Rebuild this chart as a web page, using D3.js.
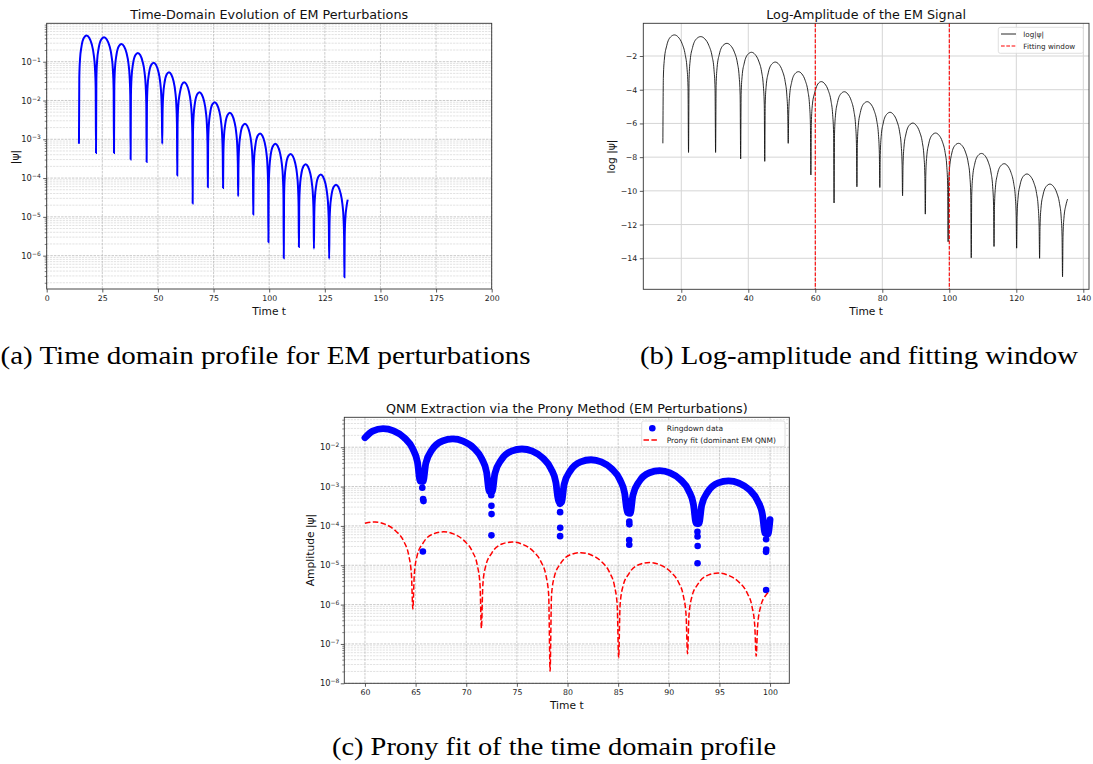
<!DOCTYPE html>
<html><head><meta charset="utf-8">
<script src="https://cdn.jsdelivr.net/npm/d3@7"></script>
<style>
body{margin:0;background:#fff;}
svg{display:block;}
</style>
</head><body>
<svg id="fig" width="1093" height="764"></svg>
<script>
// ---------------- DATA ----------------
// Signal |psi(t)|, given as natural log. Dip (node) points:
const dipT  = [14.50, 22.16, 30.24, 37.72, 44.91, 51.92, 58.68, 65.60, 72.42, 79.26, 86.05, 92.84, 99.65, 106.55, 113.35, 120.10, 126.95, 133.80];
const dipLn = [-7.18, -7.72, -7.72, -8.11, -8.25, -7.18, -9.06, -10.72, -9.76, -9.80, -10.29, -11.38, -13.02, -13.97, -13.30, -13.40, -14.00, -15.10];
// Points along each arch between the dips:
const archT = [
 14.65, 14.96, 15.65, 16.80, 17.95, 19.10, 20.25, 21.16, 21.70, 22.01,
 22.32, 22.64, 23.37, 24.58, 25.80, 27.01, 28.22, 29.19, 29.76, 30.08,
 30.39, 30.69, 31.36, 32.48, 33.61, 34.73, 35.85, 36.75, 37.27, 37.57,
 37.86, 38.15, 38.80, 39.88, 40.96, 42.03, 43.11, 43.98, 44.48, 44.77,
 45.05, 45.33, 45.96, 47.01, 48.06, 49.12, 50.17, 51.01, 51.50, 51.78,
 52.06, 52.33, 52.93, 53.95, 54.96, 55.98, 56.99, 57.80, 58.27, 58.54,
 58.82, 59.10, 59.72, 60.00, 60.76, 61.79, 62.83, 63.87, 64.70, 65.18, 65.46,
 65.74, 66.01, 66.62, 67.65, 68.67, 69.69, 70.72, 71.53, 72.01, 72.28,
 72.56, 72.83, 73.45, 74.47, 75.50, 76.52, 77.55, 78.37, 78.85, 79.12,
 79.40, 79.67, 80.28, 81.30, 82.32, 83.33, 84.35, 85.17, 85.64, 85.91,
 86.19, 86.46, 87.07, 88.09, 89.11, 90.12, 91.14, 91.96, 92.43, 92.70,
 92.98, 93.25, 93.86, 94.88, 95.90, 96.93, 97.95, 98.76, 99.24, 99.51,
 99.79, 100.00, 100.69, 101.72, 102.76, 103.79, 104.83, 105.65, 106.14, 106.41,
 106.69, 106.96, 107.57, 108.59, 109.61, 110.63, 111.65, 112.47, 112.94, 113.21,
 113.49, 113.76, 114.36, 115.38, 116.39, 117.40, 118.41, 119.22, 119.70, 119.97,
 120.24, 120.51, 121.13, 122.16, 123.18, 124.21, 125.24, 126.06, 126.54, 126.81,
 127.09, 127.36, 127.98, 129.01, 130.03, 131.06, 132.09, 132.91, 133.39, 133.66,
 133.94, 134.21, 134.82, 135.30];
const archLn = [
 -3.25, -2.18, -1.39, -0.87, -0.75, -0.88, -1.27, -1.91, -2.70, -3.83,
 -3.35, -2.28, -1.49, -0.97, -0.85, -0.98, -1.37, -2.01, -2.80, -3.93,
 -3.75, -2.68, -1.89, -1.37, -1.25, -1.38, -1.77, -2.41, -3.20, -4.33,
 -4.28, -3.21, -2.42, -1.90, -1.78, -1.91, -2.30, -2.94, -3.73, -4.86,
 -4.86, -3.79, -3.00, -2.48, -2.36, -2.49, -2.88, -3.52, -4.31, -5.44,
 -5.43, -4.36, -3.57, -3.05, -2.93, -3.06, -3.45, -4.09, -4.88, -6.01,
 -6.02, -4.95, -4.25, -4.05, -3.66, -3.52, -3.65, -4.04, -4.68, -5.47, -6.60,
 -6.62, -5.55, -4.76, -4.24, -4.12, -4.25, -4.64, -5.28, -6.07, -7.20,
 -7.21, -6.14, -5.35, -4.83, -4.71, -4.84, -5.23, -5.87, -6.66, -7.79,
 -7.84, -6.77, -5.98, -5.46, -5.34, -5.47, -5.86, -6.50, -7.29, -8.42,
 -8.48, -7.41, -6.62, -6.10, -5.98, -6.11, -6.50, -7.14, -7.93, -9.06,
 -9.07, -8.00, -7.21, -6.69, -6.57, -6.70, -7.09, -7.73, -8.52, -9.65,
 -9.68, -8.85, -7.82, -7.30, -7.18, -7.31, -7.70, -8.34, -9.13, -10.26,
 -10.28, -9.21, -8.42, -7.90, -7.78, -7.91, -8.30, -8.94, -9.73, -10.86,
 -10.89, -9.82, -9.03, -8.51, -8.39, -8.52, -8.91, -9.55, -10.34, -11.47,
 -11.50, -10.43, -9.64, -9.12, -9.00, -9.13, -9.52, -10.16, -10.95, -12.08,
 -12.10, -11.03, -10.24, -9.72, -9.60, -9.73, -10.12, -10.76, -11.55, -12.68,
 -12.70, -11.63, -10.84, -10.49];

// Fitting window
const windowT = [60, 100];

// Isolated ringdown samples near the nodes (panel c), log10 amplitude
const ringDipT     = [65.66, 65.74, 65.78, 65.72, 72.47, 72.49, 72.50, 72.49, 79.25, 79.27, 79.28, 79.27, 86.08, 86.10, 86.10, 86.11, 86.09, 86.10, 92.83, 92.84, 92.85, 92.84, 99.60, 99.61, 99.62, 99.60, 99.61];
const ringDipLog10 = [-3.03, -3.32, -3.37, -4.65, -3.22, -3.49, -3.70, -4.24, -3.44, -3.65, -4.05, -4.26, -3.37, -3.55, -3.89, -3.96, -4.36, -4.48, -4.15, -4.27, -4.51, -4.95, -4.10, -4.34, -4.60, -4.66, -5.63];

// Prony fit (dominant EM QNM), log10 amplitude
const pronyT = [60.00, 61.00, 62.02, 63.04, 63.85, 64.32, 64.59, 64.73,
 64.87, 65.14, 65.75, 66.76, 67.78, 68.79, 69.81, 70.62, 71.09, 71.36, 71.50,
 71.64, 71.91, 72.52, 73.53, 74.55, 75.57, 76.59, 77.40, 77.87, 78.14, 78.28,
 78.42, 78.69, 79.30, 80.31, 81.33, 82.34, 83.36, 84.17, 84.64, 84.91, 85.05,
 85.19, 85.46, 86.07, 87.09, 88.11, 89.13, 90.15, 90.97, 91.44, 91.71, 91.85,
 91.99, 92.26, 92.87, 93.88, 94.90, 95.92, 96.94, 97.75, 98.22, 98.49, 98.63,
 98.77, 99.04, 99.65, 100.00];
const pronyLog10 = [-3.93, -3.90, -3.96, -4.13, -4.40, -4.75, -5.24, -6.11,
 -5.24, -4.77, -4.43, -4.20, -4.15, -4.21, -4.38, -4.66, -5.00, -5.49, -6.60,
 -5.50, -5.03, -4.69, -4.46, -4.41, -4.47, -4.64, -4.92, -5.26, -5.75, -7.69,
 -5.77, -5.30, -4.96, -4.73, -4.68, -4.74, -4.91, -5.19, -5.53, -6.02, -7.35,
 -6.02, -5.55, -5.21, -4.98, -4.93, -4.99, -5.16, -5.44, -5.78, -6.27, -7.25,
 -6.29, -5.82, -5.48, -5.25, -5.20, -5.26, -5.43, -5.71, -6.05, -6.54, -7.31,
 -6.55, -6.08, -5.74, -5.67];

// Ticks
const xTicksA = [0, 25, 50, 75, 100, 125, 150, 175, 200];
const yTicksA = [1e-1, 1e-2, 1e-3, 1e-4, 1e-5, 1e-6];
const xTicksB = [20, 40, 60, 80, 100, 120, 140];
const yTicksB = [-2, -4, -6, -8, -10, -12, -14];
const xTicksC = [60, 65, 70, 75, 80, 85, 90, 95, 100];
const yTicksC = [1e-2, 1e-3, 1e-4, 1e-5, 1e-6, 1e-7, 1e-8];

// Texts
const titles = ["Time-Domain Evolution of EM Perturbations", "Log-Amplitude of the EM Signal", "QNM Extraction via the Prony Method (EM Perturbations)"];
const captions = ["(a) Time domain profile for EM perturbations", "(b) Log-amplitude and fitting window", "(c) Prony fit of the time domain profile"];
const legendB = ["log|ψ|", "Fitting window"];
const legendC = ["Ringdown data", "Prony fit (dominant EM QNM)"];

// ---------------- DRAWING ----------------
const svg = d3.select('#fig');
const SANS = '"DejaVu Sans", sans-serif';
const SERIF = '"Liberation Serif", "DejaVu Serif", serif';

const signal = dipT.map((t, i) => ({t, ln: dipLn[i]}))
  .concat(archT.map((t, i) => ({t, ln: archLn[i]})))
  .sort((a, b) => a.t - b.t);
const band = archT.map((t, i) => ({t, ln: archLn[i]})).filter(d => d.t >= windowT[0] && d.t <= windowT[1]);
const prony = pronyT.map((t, i) => ({t, v: Math.pow(10, pronyLog10[i])}));
const ringDips = ringDipT.map((t, i) => ({t, v: Math.pow(10, ringDipLog10[i])}));

function fitText(sel, target) {
  const w = sel.node().getComputedTextLength();
  const fs = parseFloat(sel.attr('font-size'));
  sel.attr('font-size', fs * target / w);
}
function minorLog(domain) {
  const lo = Math.floor(Math.log10(domain[0])), hi = Math.ceil(Math.log10(domain[1]));
  const out = [];
  for (let e = lo; e < hi; e++) for (let k = 2; k <= 9; k++) {
    const v = k * Math.pow(10, e);
    if (v >= domain[0] && v <= domain[1]) out.push(v);
  }
  return out;
}
function frame(g, b) {
  g.append('rect').attr('x', b.l).attr('y', b.t).attr('width', b.r - b.l).attr('height', b.b - b.t)
    .attr('fill', 'none').attr('stroke', '#333').attr('stroke-width', 0.9);
}
function styleAxis(a, fs) {
  a.attr('font-family', SANS).attr('font-size', fs);
  a.select('.domain').remove();
  a.selectAll('.tick line').attr('stroke', '#333').attr('stroke-width', 0.8);
  a.selectAll('.tick text').attr('fill', '#222');
}
function supLabels(a) {
  a.selectAll('.tick text').each(function(d) {
    const e = Math.round(Math.log10(d));
    const s = d3.select(this);
    s.text(null);
    s.append('tspan').text('10');
    s.append('tspan').attr('dy', '-0.5em').attr('font-size', '0.72em').text('\u2212' + Math.abs(e));
  });
}
function title(txt, cx, y, w) {
  const t = svg.append('text').attr('x', cx).attr('y', y).attr('text-anchor', 'middle')
    .attr('font-family', SANS).attr('font-size', 12).attr('fill', '#111').text(txt);
  fitText(t, w);
}
function xlabel(txt, cx, y) {
  svg.append('text').attr('x', cx).attr('y', y).attr('text-anchor', 'middle')
    .attr('font-family', SANS).attr('font-size', 10.7).attr('fill', '#111').text(txt);
}
function ylabel(txt, x, cy) {
  svg.append('text').attr('transform', `translate(${x},${cy}) rotate(-90)`).attr('text-anchor', 'middle')
    .attr('font-family', SANS).attr('font-size', 10.7).attr('fill', '#111').text(txt);
}
function clip(id, b) {
  svg.append('clipPath').attr('id', id).append('rect')
    .attr('x', b.l).attr('y', b.t).attr('width', b.r - b.l).attr('height', b.b - b.t);
}

// ===== Panel (a) =====
{
  const b = {l: 46.7, r: 491.7, t: 23.3, b: 289};
  const x = d3.scaleLinear().domain([0, 200]).range([b.l, b.r]);
  const y = d3.scaleLog().domain([Math.pow(10, -6.86), Math.pow(10, -0.01)]).range([b.b, b.t]);
  const g = svg.append('g');
  const minors = minorLog(y.domain());
  g.selectAll('.ymin').data(minors).join('line')
    .attr('x1', b.l).attr('x2', b.r).attr('y1', d => y(d)).attr('y2', d => y(d))
    .attr('stroke', '#cfcfcf').attr('stroke-width', 0.6).attr('stroke-dasharray', '2.2,1');
  g.selectAll('.ymaj').data(yTicksA).join('line')
    .attr('x1', b.l).attr('x2', b.r).attr('y1', d => y(d)).attr('y2', d => y(d))
    .attr('stroke', '#bdbdbd').attr('stroke-width', 0.8).attr('stroke-dasharray', '2.5,1.1');
  g.selectAll('.xg').data(xTicksA).join('line')
    .attr('x1', d => x(d)).attr('x2', d => x(d)).attr('y1', b.t).attr('y2', b.b)
    .attr('stroke', '#bdbdbd').attr('stroke-width', 0.8).attr('stroke-dasharray', '2.5,1.1');
  clip('clipA', b);
  g.append('path').datum(signal).attr('clip-path', 'url(#clipA)')
    .attr('d', d3.line().x(d => x(d.t)).y(d => y(Math.exp(d.ln))).curve(d3.curveMonotoneX))
    .attr('fill', 'none').attr('stroke', '#0000ff').attr('stroke-width', 2);
  frame(g, b);
  const ax = g.append('g').attr('transform', `translate(0,${b.b})`)
    .call(d3.axisBottom(x).tickValues(xTicksA).tickSize(3.5).tickPadding(2.5));
  styleAxis(ax, 7.8);
  const ay = g.append('g').attr('transform', `translate(${b.l},0)`)
    .call(d3.axisLeft(y).tickValues(yTicksA).tickSize(3.5).tickPadding(2.5));
  styleAxis(ay, 8.3); supLabels(ay);
  const aym = g.append('g').attr('transform', `translate(${b.l},0)`)
    .call(d3.axisLeft(y).tickValues(minors).tickSize(2).tickFormat(''));
  styleAxis(aym, 8); aym.selectAll('.tick line').attr('stroke-width', 0.6);
  title(titles[0], (b.l + b.r) / 2, 18.7, 278);
  xlabel('Time t', (b.l + b.r) / 2, 314.5);
  ylabel('|ψ|', 18.5, 157);
}

// ===== Panel (b) =====
{
  const b = {l: 643.3, r: 1089, t: 23.3, b: 289.3};
  const x = d3.scaleLinear().domain([8.66, 141.7]).range([b.l, b.r]);
  const y = d3.scaleLinear().domain([-15.84, -0.06]).range([b.b, b.t]);
  const g = svg.append('g');
  g.selectAll('.yg').data(yTicksB).join('line')
    .attr('x1', b.l).attr('x2', b.r).attr('y1', d => y(d)).attr('y2', d => y(d))
    .attr('stroke', '#d5d5d5').attr('stroke-width', 1);
  g.selectAll('.xg').data(xTicksB).join('line')
    .attr('x1', d => x(d)).attr('x2', d => x(d)).attr('y1', b.t).attr('y2', b.b)
    .attr('stroke', '#d5d5d5').attr('stroke-width', 1);
  clip('clipB', b);
  g.append('path').datum(signal).attr('clip-path', 'url(#clipB)')
    .attr('d', d3.line().x(d => x(d.t)).y(d => y(d.ln)).curve(d3.curveMonotoneX))
    .attr('fill', 'none').attr('stroke', '#111').attr('stroke-width', 0.9);
  g.selectAll('.win').data(windowT).join('line')
    .attr('x1', d => x(d)).attr('x2', d => x(d)).attr('y1', b.t).attr('y2', b.b)
    .attr('stroke', '#ff0000').attr('stroke-width', 1.1).attr('stroke-dasharray', '3.7,1.6');
  frame(g, b);
  const ax = g.append('g').attr('transform', `translate(0,${b.b})`)
    .call(d3.axisBottom(x).tickValues(xTicksB).tickSize(3.5).tickPadding(2.5));
  styleAxis(ax, 7.8);
  const ay = g.append('g').attr('transform', `translate(${b.l},0)`)
    .call(d3.axisLeft(y).tickValues(yTicksB).tickSize(3.5).tickPadding(2.5));
  styleAxis(ay, 7.8);
  // legend
  const lg = g.append('g');
  lg.append('rect').attr('x', 998.3).attr('y', 27.3).attr('width', 85).attr('height', 26).attr('rx', 2)
    .attr('fill', '#fff').attr('fill-opacity', 0.85).attr('stroke', '#d8d8d8').attr('stroke-width', 0.8);
  lg.append('line').attr('x1', 1001).attr('x2', 1016).attr('y1', 34).attr('y2', 34)
    .attr('stroke', '#111').attr('stroke-width', 0.9);
  lg.append('line').attr('x1', 1001).attr('x2', 1016).attr('y1', 46).attr('y2', 46)
    .attr('stroke', '#ff0000').attr('stroke-width', 1.1).attr('stroke-dasharray', '3.7,1.6');
  lg.selectAll('.lt').data(legendB).join('text')
    .attr('x', 1023.3).attr('y', (d, i) => 36.6 + i * 12)
    .attr('font-family', SANS).attr('font-size', 7.2).attr('fill', '#222').text(d => d);
  title(titles[1], (b.l + b.r) / 2, 18.5, 200);
  xlabel('Time t', (b.l + b.r) / 2, 314.5);
  ylabel('log |ψ|', 614.8, 156.5);
}

// ===== Panel (c) =====
{
  const b = {l: 344.3, r: 789.3, t: 417.3, b: 683.3};
  const x = d3.scaleLinear().domain([57.96, 101.9]).range([b.l, b.r]);
  const y = d3.scaleLog().domain([1e-8, Math.pow(10, -1.24)]).range([b.b, b.t]);
  const g = svg.append('g');
  const minors = minorLog(y.domain());
  g.selectAll('.ymin').data(minors).join('line')
    .attr('x1', b.l).attr('x2', b.r).attr('y1', d => y(d)).attr('y2', d => y(d))
    .attr('stroke', '#cfcfcf').attr('stroke-width', 0.6).attr('stroke-dasharray', '2.2,1');
  g.selectAll('.ymaj').data(yTicksC).join('line')
    .attr('x1', b.l).attr('x2', b.r).attr('y1', d => y(d)).attr('y2', d => y(d))
    .attr('stroke', '#bdbdbd').attr('stroke-width', 0.8).attr('stroke-dasharray', '2.5,1.1');
  g.selectAll('.xg').data(xTicksC).join('line')
    .attr('x1', d => x(d)).attr('x2', d => x(d)).attr('y1', b.t).attr('y2', b.b)
    .attr('stroke', '#bdbdbd').attr('stroke-width', 0.8).attr('stroke-dasharray', '2.5,1.1');
  clip('clipC', b);
  const dc = g.append('g').attr('clip-path', 'url(#clipC)');
  dc.append('path').datum(band)
    .attr('d', d3.line().x(d => x(d.t)).y(d => y(Math.exp(d.ln))).curve(d3.curveMonotoneX))
    .attr('fill', 'none').attr('stroke', '#0000ff').attr('stroke-width', 6.8)
    .attr('stroke-linecap', 'round').attr('stroke-linejoin', 'round');
  dc.selectAll('.rd').data(ringDips).join('circle')
    .attr('cx', d => x(d.t)).attr('cy', d => y(d.v)).attr('r', 3.3).attr('fill', '#0000ff');
  dc.append('path').datum(prony)
    .attr('d', d3.line().x(d => x(d.t)).y(d => y(d.v)).curve(d3.curveMonotoneX))
    .attr('fill', 'none').attr('stroke', '#ff0000').attr('stroke-width', 1.5).attr('stroke-dasharray', '5.5,2.4');
  frame(g, b);
  const ax = g.append('g').attr('transform', `translate(0,${b.b})`)
    .call(d3.axisBottom(x).tickValues(xTicksC).tickSize(3.5).tickPadding(2.5));
  styleAxis(ax, 7.8);
  const ay = g.append('g').attr('transform', `translate(${b.l},0)`)
    .call(d3.axisLeft(y).tickValues(yTicksC).tickSize(3.5).tickPadding(1.5));
  styleAxis(ay, 8.3); supLabels(ay);
  const aym = g.append('g').attr('transform', `translate(${b.l},0)`)
    .call(d3.axisLeft(y).tickValues(minors).tickSize(2).tickFormat(''));
  styleAxis(aym, 8); aym.selectAll('.tick line').attr('stroke-width', 0.6);
  // legend
  const lg = g.append('g');
  lg.append('rect').attr('x', 641.7).attr('y', 421).attr('width', 143.3).attr('height', 25.7).attr('rx', 2)
    .attr('fill', '#fff').attr('fill-opacity', 0.85).attr('stroke', '#d8d8d8').attr('stroke-width', 0.8);
  lg.append('circle').attr('cx', 652.3).attr('cy', 428.3).attr('r', 3.3).attr('fill', '#0000ff');
  lg.append('line').attr('x1', 643.5).attr('x2', 658.5).attr('y1', 440).attr('y2', 440)
    .attr('stroke', '#ff0000').attr('stroke-width', 1.5).attr('stroke-dasharray', '5.5,2.4');
  lg.selectAll('.lt').data(legendC).join('text')
    .attr('x', 666.7).attr('y', (d, i) => 430.9 + i * 11.7)
    .attr('font-family', SANS).attr('font-size', 7.5).attr('fill', '#222').text(d => d);
  title(titles[2], (b.l + b.r) / 2, 413, 362);
  xlabel('Time t', (b.l + b.r) / 2, 709);
  ylabel('Amplitude |ψ|', 313.5, 550);
}

// ===== Captions =====
const capPos = [{x: 0.5, y: 364, w: 530}, {x: 640, y: 364, w: 438}, {x: 332, y: 755, w: 444}];
captions.forEach((c, i) => {
  svg.append('text').attr('x', capPos[i].x).attr('y', capPos[i].y).attr('text-anchor', 'start')
    .attr('font-family', SERIF).attr('font-size', 25).attr('fill', '#000')
    .attr('textLength', capPos[i].w).attr('lengthAdjust', 'spacingAndGlyphs').text(c);
});
</script>
</body></html>
